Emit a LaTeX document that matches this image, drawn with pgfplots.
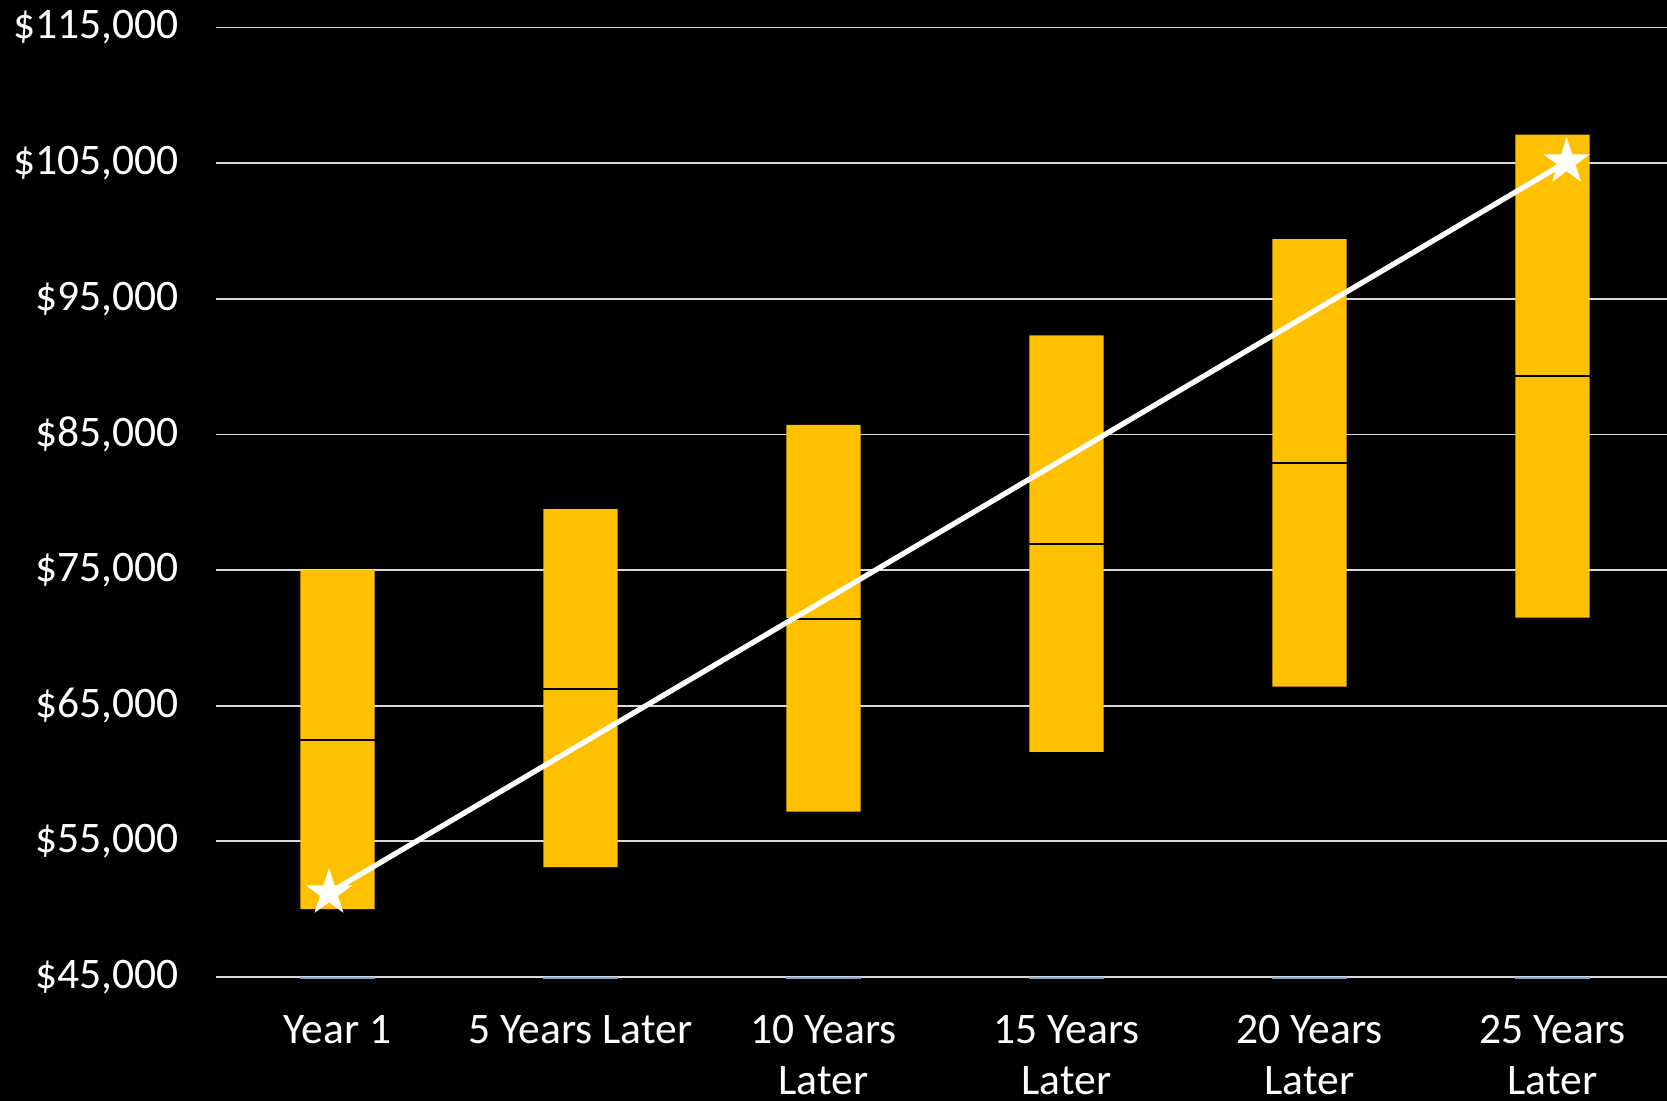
\documentclass[border=0pt]{standalone}
\usepackage{pgfplots}
\usepackage{pgfplotstable}
\pgfplotsset{compat=1.18}
\usepackage{fontspec}
\setmainfont{Carlito}
\definecolor{bary}{HTML}{FFC000}
\definecolor{gridc}{HTML}{D9D9D9}
\definecolor{baseb}{HTML}{7BA7DC}

\pgfdeclareplotmark{fstar}{%
  \pgfpathmoveto{\pgfpointpolar{90}{\pgfplotmarksize}}%
  \pgfpathlineto{\pgfpointpolar{126}{0.382\pgfplotmarksize}}%
  \pgfpathlineto{\pgfpointpolar{162}{\pgfplotmarksize}}%
  \pgfpathlineto{\pgfpointpolar{198}{0.382\pgfplotmarksize}}%
  \pgfpathlineto{\pgfpointpolar{234}{\pgfplotmarksize}}%
  \pgfpathlineto{\pgfpointpolar{270}{0.382\pgfplotmarksize}}%
  \pgfpathlineto{\pgfpointpolar{306}{\pgfplotmarksize}}%
  \pgfpathlineto{\pgfpointpolar{342}{0.382\pgfplotmarksize}}%
  \pgfpathlineto{\pgfpointpolar{18}{\pgfplotmarksize}}%
  \pgfpathlineto{\pgfpointpolar{54}{0.382\pgfplotmarksize}}%
  \pgfpathclose
  \pgfusepathqfill
}

\pgfplotstableread{
x low med high
0 50000 62500 75000
1 53100 66250 79500
2 57200 71400 85700
3 61600 76900 92300
4 66400 82900 99400
5 71500 89300 107100
}\rangedata

\begin{document}
\begin{tikzpicture}
\path[use as bounding box, fill=black] (-2.16,-1.24) rectangle (14.51,9.77);
\pgfplotsset{common/.style={
  scale only axis, width=14.51cm, height=9.494cm,
  at={(0,0)}, anchor=south west,
  xmin=-0.5, xmax=5.471, ymin=45000, ymax=115000,
}}
\begin{axis}[common,
  ybar stacked, bar width=0.306,
  ytick={45000,55000,...,115000},
  ymajorgrids, grid style={gridc, line width=0.5pt},
  axis line style={draw=none}, major tick length=0pt,
  scaled y ticks=false,
  xtick={0,...,5},
  xticklabels={Year 1, 5 Years Later, {10 Years\\Later}, {15 Years\\Later}, {20 Years\\Later}, {25 Years\\Later}},
  xticklabel style={align=center, text=white, font=\fontsize{12.4}{14.6}\selectfont, yshift=-0.26cm},
  yticklabel style={text=white, font=\fontsize{12.4}{14.6}\selectfont, xshift=-0.25cm},
  yticklabel={\$\pgfmathprintnumber{\tick}},
  /pgf/number format/.cd, fixed, 1000 sep={,}, assume math mode=true,
]
\addplot[fill=none, draw=none] table[x=x, y=low] {\rangedata};
\addplot[fill=bary, draw=none] table[x=x, y expr=\thisrow{high}-\thisrow{low}] {\rangedata};
\end{axis}
\begin{axis}[common, hide axis, clip=false]
\addplot[draw=none, mark=none, error bars/.cd, x dir=both, x explicit, error mark=none,
  error bar style={draw=black, solid, line width=0.5pt}]
  coordinates {(0,62500) +- (0.153,0) (1,66250) +- (0.153,0) (2,71400) +- (0.153,0)
               (3,76900) +- (0.153,0) (4,82900) +- (0.153,0) (5,89300) +- (0.153,0)};
\addplot[draw=none, mark=none, error bars/.cd, x dir=both, x explicit, error mark=none,
  error bar style={draw=baseb, solid, line width=0.8pt}]
  coordinates {(0,44930) +- (0.153,0) (1,44930) +- (0.153,0) (2,44930) +- (0.153,0)
               (3,44930) +- (0.153,0) (4,44930) +- (0.153,0) (5,44930) +- (0.153,0)};
\addplot[white, line width=1.5pt, mark=fstar, mark size=7pt, mark options={fill=white, draw=none}]
  coordinates {(-0.035,51200) (5.058,105100)};
\end{axis}
\end{tikzpicture}
\end{document}
